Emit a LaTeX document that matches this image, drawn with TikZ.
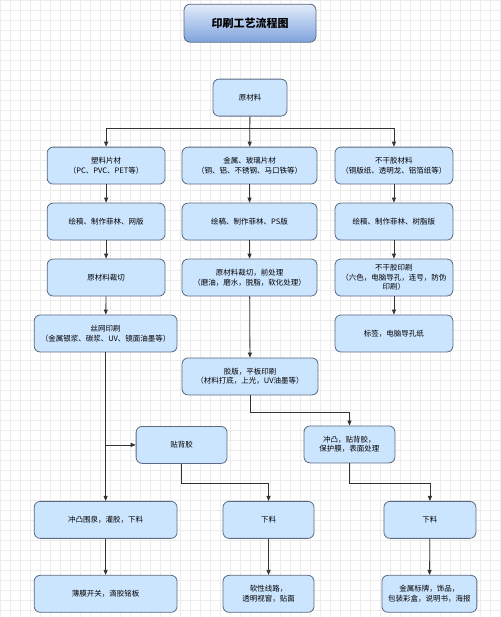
\documentclass[tikz,border=0pt]{standalone}
\usepackage{fontspec}
\setmainfont{Noto Sans CJK SC}
\usetikzlibrary{arrows.meta}
\definecolor{boxfill}{HTML}{CCE5FF}
\definecolor{boxline}{HTML}{5B6A80}
\definecolor{gridline}{HTML}{ECECEC}
\definecolor{titletop}{HTML}{E2ECFB}
\definecolor{titlebot}{HTML}{7EA3DC}

\begin{document}
\begin{tikzpicture}[x=1pt, y=-1pt,
    box/.style={draw=boxline, fill=boxfill, rounded corners=6pt, minimum height=37pt, align=center, inner sep=2pt, line width=0.8pt, font=\fontsize{7.5}{9.5}\selectfont},
    titlebox/.style={draw=boxline, rounded corners=6pt, top color=titletop, bottom color=titlebot, minimum width=132pt, minimum height=38pt, line width=0.8pt, font=\fontsize{11}{13}\selectfont\bfseries},
    arr/.style={-{Triangle[length=5pt,width=4pt]}, line width=0.8pt, draw=black!80}
]
\fill[white] (0,0) rectangle (500,617);
\draw[gridline, line width=0.4pt, step=10pt] (0,0) grid (500,617);
\useasboundingbox (0,0) rectangle (500,617);

\node[titlebox] (title) at (250,23) {印刷工艺流程图};

\node[box, minimum width=74pt] (raw) at (250,97.5) {原材料};
\coordinate (split) at (250,128);

\node[box, minimum width=118pt] (plastic) at (106,165.5) {塑料片材\\（PC、PVC、PET等）};
\node[box, minimum width=135pt] (metal) at (249.5,165.5) {金属、玻璃片材\\（铜、铝、不锈钢、马口铁等）};
\node[box, minimum width=118pt] (adhesive) at (394,165.5) {不干胶材料\\（铜版纸、透明龙、铝箔纸等）};

\node[box, minimum width=118pt] (draftA) at (106,221.5) {绘稿、制作菲林、网版};
\node[box, minimum width=135pt] (draftB) at (249.5,221.5) {绘稿、制作菲林、PS版};
\node[box, minimum width=118pt] (draftC) at (394,221.5) {绘稿、制作菲林、树脂版};

\node[box, minimum width=118pt] (cutA) at (106,277.5) {原材料裁切};
\node[box, minimum width=135pt] (cutB) at (249.5,277.5) {原材料裁切，前处理\\（磨油，磨水，脱脂，软化处理）};
\node[box, minimum width=118pt] (printC) at (394,277.5) {不干胶印刷\\（六色，电脑导孔，连号，防伪\\印刷）};

\node[box, minimum width=143pt] (screen) at (105.5,333.5) {丝网印刷\\（金属银浆、碳浆、UV、镜面油墨等）};
\node[box, minimum width=118pt] (tag) at (394,333.5) {标签，电脑导孔纸};

\node[box, minimum width=136pt] (offset) at (250,376.5) {胶版，平板印刷\\（材料打底，上光，UV油墨等）};

\node[box, minimum width=91pt] (backglue) at (181.5,445) {贴背胶};
\node[box, minimum width=91pt] (punch) at (349.5,444.5) {冲凸，贴背胶，\\保护膜，表面处理};

\node[box, minimum width=143pt] (blankA) at (105.5,520) {冲凸围泉，灌胶，下料};
\node[box, minimum width=91pt] (blankB) at (268.5,520) {下料};
\node[box, minimum width=92pt] (blankC) at (430,520) {下料};

\node[box, minimum width=143pt] (prodA) at (105.5,594) {薄膜开关，滴胶铭板};
\node[box, minimum width=91pt] (prodB) at (268.5,594) {软性线路，\\透明视窗，贴面};
\node[box, minimum width=95pt] (prodC) at (429.5,594) {金属标牌，饰品，\\包装彩盒，说明书，海报};

\draw[arr] (raw) -- (metal);
\draw[arr] (split) -| (plastic);
\draw[arr] (split) -| (adhesive);

\draw[arr] (plastic) -- (draftA);
\draw[arr] (draftA) -- (cutA);
\draw[arr] (cutA) -- (screen);
\draw[arr] (screen) -- (blankA);
\draw[arr] (screen.south |- backglue) -- (backglue);

\draw[arr] (metal) -- (draftB);
\draw[arr] (draftB) -- (cutB);
\draw[arr] (cutB) -- (offset);
\draw[arr] (offset.south) -- ++(0,17) -| (punch.north);

\draw[arr] (adhesive) -- (draftC);
\draw[arr] (draftC) -- (printC);
\draw[arr] (printC) -- (tag);

\draw[arr] (backglue.south) -- ++(0,20) -| (blankB.north);
\draw[arr] (punch.south) -- ++(0,20) -| (blankC.north);

\draw[arr] (blankA) -- (prodA);
\draw[arr] (blankB) -- (prodB);
\draw[arr] (blankC) -- (prodC);
\end{tikzpicture}
\end{document}
